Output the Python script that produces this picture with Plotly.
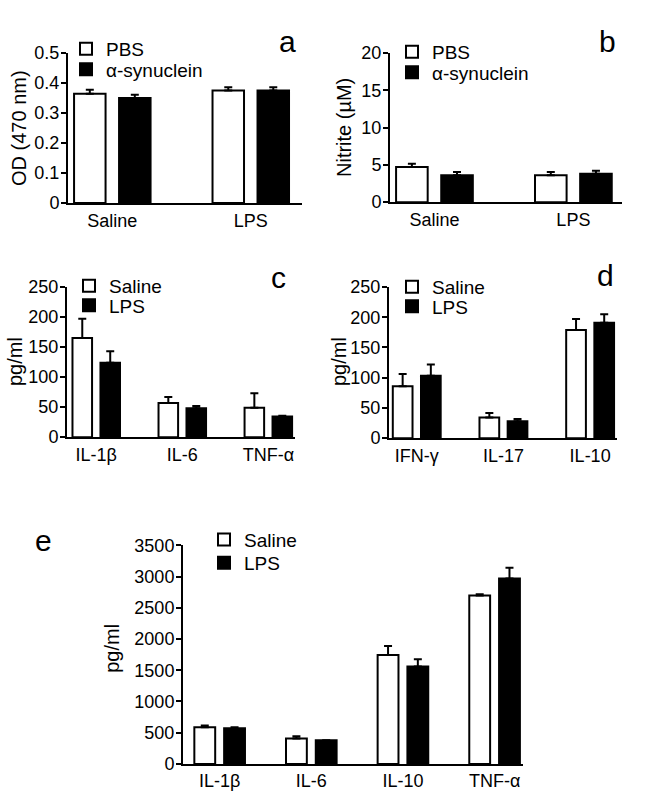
import plotly.graph_objects as go

W, H = 653, 809
FONT = "Arial, Liberation Sans, Helvetica, sans-serif"

# ---- data ----
a_groups = ["Saline", "LPS"]
a_pbs = [0.364, 0.375]
a_pbs_err = [0.013, 0.011]
a_syn = [0.350, 0.375]
a_syn_err = [0.011, 0.011]

b_groups = ["Saline", "LPS"]
b_pbs = [4.7, 3.6]
b_pbs_err = [0.45, 0.45]
b_syn = [3.6, 3.8]
b_syn_err = [0.45, 0.40]

c_cats = ["IL-1β", "IL-6", "TNF-α"]
c_saline = [165, 57, 49]
c_saline_err = [32, 10, 24]
c_lps = [124, 48, 34.5]
c_lps_err = [19, 4, 1]

d_cats = ["IFN-γ", "IL-17", "IL-10"]
d_saline = [86, 34, 179]
d_saline_err = [20, 7.5, 18]
d_lps = [103, 28, 191]
d_lps_err = [19, 3.8, 14]

e_cats = ["IL-1β", "IL-6", "IL-10", "TNF-α"]
e_saline = [588, 406, 1745, 2698]
e_saline_err = [27, 37, 145, 21]
e_lps = [573, 380, 1562, 2969]
e_lps_err = [15, 0, 115, 172]


def px_x(p):
    return p / W


def px_y(p):
    return 1 - p / H


fig = go.Figure()

# suffix, categories, series1 (name, vals, errs), series2, x-domain px, y-domain px,
# x range, y range, dtick, legend text left px, legend row centres px
panels = [
    ("", a_groups, ("PBS", a_pbs, a_pbs_err), ("α-synuclein", a_syn, a_syn_err),
     (68, 302), (44, 198), [-0.32, 1.37], [0, 0.5], 0.1, 107, (40, 61)),
    ("2", b_groups, ("PBS", b_pbs, b_pbs_err), ("α-synuclein", b_syn, b_syn_err),
     (390, 622), (44, 197), [-0.32, 1.35], [0, 20], 5, 433, (43, 64)),
    ("3", c_cats, ("Saline", c_saline, c_saline_err), ("LPS", c_lps, c_lps_err),
     (67, 295), (284, 438), [-0.34, 2.31], [0, 250], 50, 110, (283, 303)),
    ("4", d_cats, ("Saline", d_saline, d_saline_err), ("LPS", d_lps, d_lps_err),
     (389, 617), (284, 439), [-0.32, 2.31], [0, 250], 50, 433, (284, 304)),
    ("5", e_cats, ("Saline", e_saline, e_saline_err), ("LPS", e_lps, e_lps_err),
     (183, 523), (549, 773), [-0.40, 3.31], [0, 3500], 500, 245, (543, 567)),
]

layout = dict(
    width=W, height=H, margin=dict(l=0, r=0, t=0, b=0),
    paper_bgcolor="white", plot_bgcolor="white",
    barmode="group", bargap=0.35, bargroupgap=0.3,
    font=dict(family=FONT, color="black", size=18),
    showlegend=True,
)

leg_i = 0
for (suf, cats, s1, s2, xd, yd, xr, yr, dt, ltx, lrows) in panels:
    xa = "x" + suf
    ya = "y" + suf
    for (name, vals, errs), fill, row in zip([s1, s2], ["white", "black"], lrows):
        leg_i += 1
        leg = "legend" if leg_i == 1 else "legend%d" % leg_i
        fig.add_trace(go.Bar(
            x=cats, y=vals, name=name, xaxis=xa, yaxis=ya, legend=leg,
            marker=dict(color=fill, line=dict(color="black", width=2)),
            error_y=dict(type="data", array=errs, arrayminus=[0] * len(errs),
                         symmetric=False, color="black", thickness=2, width=4),
        ))
        layout[leg] = dict(
            x=px_x(ltx - 41), y=px_y(row), xanchor="left", yanchor="middle",
            bgcolor="rgba(0,0,0,0)", font=dict(size=19, family=FONT),
            itemwidth=30,
        )
    layout["xaxis" + suf] = dict(
        domain=[px_x(xd[0]), px_x(xd[1])], anchor=ya, range=xr,
        showline=True, linecolor="black", linewidth=2, ticks="",
        showgrid=False, zeroline=False, tickfont=dict(size=18),
        fixedrange=True,
    )
    layout["yaxis" + suf] = dict(
        domain=[px_y(yd[1]), px_y(yd[0])], anchor=xa, range=yr, dtick=dt,
        showline=True, linecolor="black", linewidth=2, ticks="outside",
        ticklen=5, tickwidth=2, tickcolor="black", ticklabelstandoff=-2,
        showgrid=False, zeroline=False, tickfont=dict(size=18),
        fixedrange=True,
    )

fig.update_layout(**layout)

titles = [
    ("OD (470 nm)", 19, 121),
    ("Nitrite (µM)", 344, 121),
    ("pg/ml", 15, 361),
    ("pg/ml", 339, 361),
    ("pg/ml", 112, 655),
]
for t, x, y in titles:
    fig.add_annotation(text=t, x=px_x(x), y=px_y(y), xref="paper", yref="paper",
                       showarrow=False, textangle=-90, font=dict(size=20),
                       xanchor="center", yanchor="middle")

letters = [("a", 287, 32), ("b", 607, 32), ("c", 278, 274), ("d", 605, 272), ("e", 43, 544)]
for t, x, y in letters:
    fig.add_annotation(text=t, x=px_x(x), y=px_y(y), xref="paper", yref="paper",
                       showarrow=False, font=dict(size=30),
                       xanchor="center", yanchor="middle")

fig.write_html(
    "out.html",
    config={"displayModeBar": False},
    post_script="document.body.style.margin='0';document.body.style.overflow='hidden';",
)
